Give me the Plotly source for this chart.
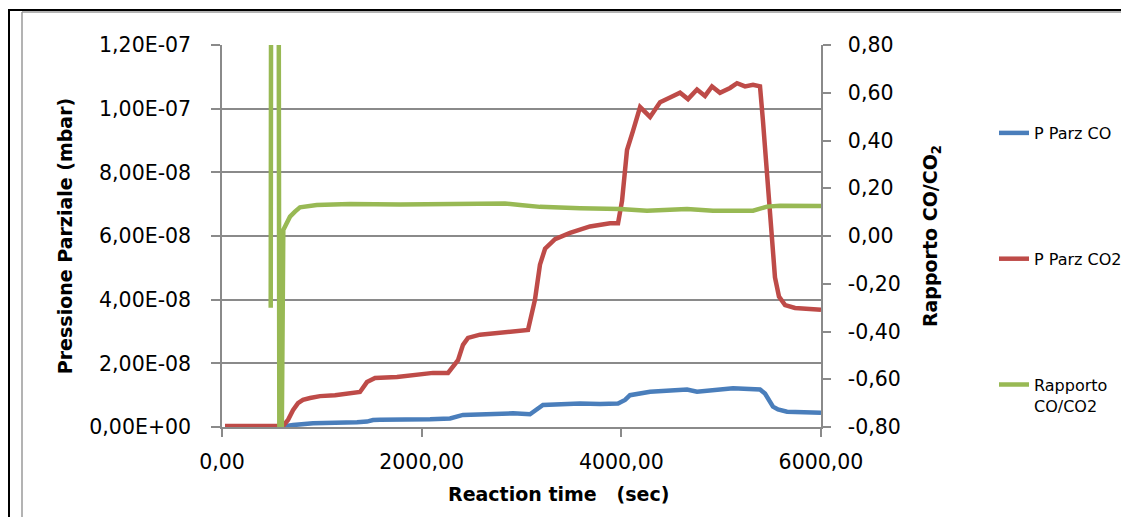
import plotly.graph_objects as go

# ---------------- data ----------------
t_co = [30, 611, 711, 912, 1352, 1452, 1513, 1583, 2084, 2284, 2414, 2915, 3085, 3135,
        3215, 3586, 3786, 3967, 4037, 4087, 4288, 4658, 4758, 5119, 5389, 5439, 5519,
        5569, 5660, 6000]
p_co = [0.02e-8, 0.02e-8, 0.06e-8, 0.12e-8, 0.15e-8, 0.17e-8, 0.22e-8, 0.23e-8, 0.24e-8,
        0.27e-8, 0.38e-8, 0.43e-8, 0.40e-8, 0.50e-8, 0.69e-8, 0.74e-8, 0.72e-8, 0.74e-8,
        0.85e-8, 1.00e-8, 1.11e-8, 1.18e-8, 1.11e-8, 1.22e-8, 1.18e-8, 1.05e-8, 0.64e-8,
        0.55e-8, 0.48e-8, 0.45e-8]

t_co2 = [30, 611, 661, 711, 761, 811, 882, 982, 1132, 1312, 1382, 1452, 1533, 1753, 1913,
         2114, 2264, 2314, 2364, 2414, 2464, 2584, 2885, 3065, 3135, 3185, 3236, 3336,
         3486, 3686, 3887, 3967, 4007, 4057, 4117, 4188, 4288, 4388, 4488, 4588, 4668,
         4758, 4838, 4908, 4988, 5089, 5159, 5239, 5319, 5389, 5419, 5449, 5489, 5539,
         5579, 5640, 5740, 6000]
p_co2 = [0.03e-8, 0.03e-8, 0.22e-8, 0.53e-8, 0.75e-8, 0.85e-8, 0.91e-8, 0.97e-8, 1.00e-8,
         1.07e-8, 1.10e-8, 1.41e-8, 1.54e-8, 1.57e-8, 1.63e-8, 1.70e-8, 1.70e-8, 1.90e-8,
         2.10e-8, 2.58e-8, 2.80e-8, 2.90e-8, 3.00e-8, 3.05e-8, 4.00e-8, 5.10e-8, 5.60e-8,
         5.90e-8, 6.10e-8, 6.30e-8, 6.40e-8, 6.40e-8, 7.10e-8, 8.70e-8, 9.30e-8, 10.05e-8,
         9.74e-8, 10.20e-8, 10.35e-8, 10.50e-8, 10.30e-8, 10.60e-8, 10.40e-8, 10.70e-8,
         10.50e-8, 10.65e-8, 10.80e-8, 10.70e-8, 10.75e-8, 10.70e-8, 9.60e-8, 8.40e-8,
         6.60e-8, 4.70e-8, 4.10e-8, 3.83e-8, 3.74e-8, 3.68e-8]

t_ratio = [488, 494, 565, 578, 614, 648, 681, 731, 781, 949, 1282, 1783, 2284, 2835, 2985,
           3185, 3586, 3987, 4257, 4658, 4918, 5319, 5459, 5590, 6000]
ratio = [-0.30, 2.0, 2.0, -2.0, 0.025, 0.053, 0.081, 0.102, 0.120, 0.130, 0.134, 0.132,
         0.134, 0.136, 0.130, 0.122, 0.116, 0.113, 0.106, 0.113, 0.106, 0.106, 0.123,
         0.127, 0.126]

x_ticks = [0, 2000, 4000, 6000]
x_ticktext = ["0,00", "2000,00", "4000,00", "6000,00"]
y1_ticks = [0, 2e-8, 4e-8, 6e-8, 8e-8, 1e-7, 1.2e-7]
y1_ticktext = ["0,00E+00", "2,00E-08", "4,00E-08", "6,00E-08", "8,00E-08", "1,00E-07", "1,20E-07"]
y2_ticks = [-0.8, -0.6, -0.4, -0.2, 0.0, 0.2, 0.4, 0.6, 0.8]
y2_ticktext = ["-0,80", "-0,60", "-0,40", "-0,20", "0,00", "0,20", "0,40", "0,60", "0,80"]

# ---------------- figure ----------------
# the page body has an 8 px margin, so the figure is 8 px smaller and shifted
W, H = 1121, 509
L, R, T, B = 214, 813, 37, 419
FONT = "DejaVu Sans"
GRID = "#8a8a8a"


def px(x):
    return (x - L) / (R - L)


def py(y):
    return (B - y) / (B - T)


fig = go.Figure()
fig.add_trace(go.Scatter(x=t_co, y=p_co, mode="lines", name="P Parz CO", legendgroup="a",
                         line=dict(color="#4A7EBB", width=4.5)))
fig.add_trace(go.Scatter(x=t_co2, y=p_co2, mode="lines", name="P Parz CO2", legendgroup="b",
                         line=dict(color="#BE4B48", width=4.5)))
fig.add_trace(go.Scatter(x=t_ratio, y=ratio, mode="lines", name="Rapporto<br>CO/CO2",
                         legendgroup="c", yaxis="y2",
                         line=dict(color="#98B954", width=4.5)))

tickfont = dict(family=FONT, size=20.5, color="#000000")
titlefont = dict(family=FONT, size=19, color="#000000")

NB = "\u00a0"
fig.update_layout(
    width=W, height=H,
    margin=dict(l=L, r=W - R, t=T, b=H - B, autoexpand=False),
    paper_bgcolor="white", plot_bgcolor="white",
    showlegend=True,
    legend=dict(x=px(986), y=py(108), xanchor="left", yanchor="top", valign="top",
                font=dict(family=FONT, size=16, color="#000000"),
                traceorder="grouped", tracegroupgap=102, bgcolor="rgba(0,0,0,0)"),
    xaxis=dict(range=[0, 6000], tickvals=x_ticks, ticktext=x_ticktext, tickfont=tickfont,
               showgrid=False, zeroline=False, showline=True, linecolor=GRID, linewidth=1.5,
               ticks="outside", ticklen=8, tickcolor=GRID, tickwidth=1.5,
               ticklabelstandoff=8),
    yaxis=dict(range=[0, 1.2e-7], tickvals=y1_ticks, ticktext=y1_ticktext, tickfont=tickfont,
               showgrid=True, gridcolor=GRID, gridwidth=1.5, zeroline=False,
               showline=True, linecolor=GRID, linewidth=1.5,
               ticks="outside", ticklen=9, tickcolor=GRID, tickwidth=1.5,
               ticklabelstandoff=16,
               title=dict(text="<b>Pressione Parziale (mbar)</b>", font=titlefont, standoff=12)),
    yaxis2=dict(range=[-0.8, 0.8], tickvals=y2_ticks, ticktext=y2_ticktext, tickfont=tickfont,
                overlaying="y", side="right", showgrid=False, zeroline=False,
                showline=True, linecolor=GRID, linewidth=1.5,
                ticks="outside", ticklen=8, tickcolor=GRID, tickwidth=1.5,
                ticklabelstandoff=13,
                title=dict(text="<b>Rapporto CO/CO<sub>2</sub></b>", font=titlefont, standoff=24)),
)

# x-axis title (placed off-centre as in the original)
fig.add_annotation(text="<b>Reaction time" + NB * 3 + "(sec)</b>", xref="paper", yref="paper",
                   x=px(550), y=py(486), xanchor="center", yanchor="middle", showarrow=False,
                   font=titlefont)

# page frame (decorative borders of the original screenshot)
fig.add_shape(type="line", xref="paper", yref="paper", x0=px(0), x1=px(W + 2), y0=py(2), y1=py(2),
              line=dict(color="#000000", width=2))
fig.add_shape(type="line", xref="paper", yref="paper", x0=px(1), x1=px(1), y0=py(1), y1=py(H + 2),
              line=dict(color="#000000", width=2))
fig.add_shape(type="line", xref="paper", yref="paper", x0=px(14), x1=px(W + 2), y0=py(4), y1=py(4),
              line=dict(color="#9a9a9a", width=1.5))
fig.add_shape(type="line", xref="paper", yref="paper", x0=px(14), x1=px(14), y0=py(4), y1=py(H + 2),
              line=dict(color="#9a9a9a", width=1.5))

fig.write_html("out.html")
